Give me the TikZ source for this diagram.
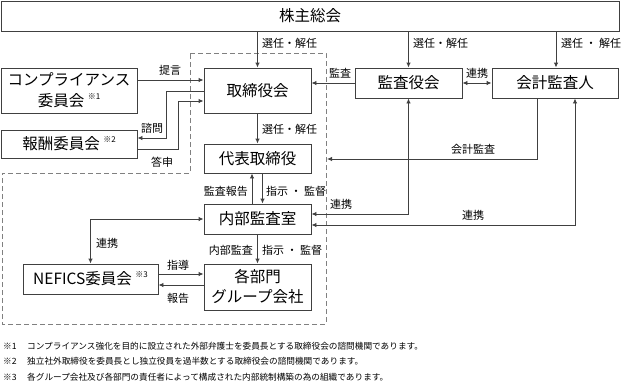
\documentclass[tikz,border=0pt]{standalone}
\usepackage{fontspec}
\setmainfont{Noto Sans CJK JP}
\usetikzlibrary{arrows.meta}
\definecolor{linec}{HTML}{404040}
\definecolor{zonec}{HTML}{808080}
\newcommand\bigfnt{\fontsize{15.5}{20}\selectfont}
\newcommand\labfnt{\fontsize{11}{13}\selectfont}
\newcommand\notefnt{\fontsize{8.65}{10}\selectfont}
\newcommand\supmark[1]{\raisebox{0.45em}{\fontsize{8}{8}\selectfont #1}}
\tikzset{
  box/.style={draw=linec, line width=0.9pt, inner sep=0pt, align=center, font=\bigfnt, text=black},
  lab/.style={inner sep=0pt, font=\labfnt, text=black},
  note/.style={inner sep=0pt, font=\notefnt, text=black, anchor=west},
  arr/.style={draw=linec, line width=0.9pt, -{Latex[length=5pt,width=4.5pt]}},
  arrs/.style={draw=linec, line width=0.9pt, {Latex[length=5pt,width=4.5pt]}-{Latex[length=5pt,width=4.5pt]}},
  zone/.style={draw=zonec, line width=0.8pt, dash pattern=on 5pt off 3pt},
}
\begin{document}
\begin{tikzpicture}[x=1pt,y=-1pt]
\useasboundingbox (0,0) rectangle (621,381);
% dashed zone
\draw[zone] (190,53) -- (326,53) -- (326,324) -- (2,324) -- (2,173) -- (190,173) -- cycle;

% boxes
\node[box, minimum width=618pt, minimum height=30pt] (sh) at (310,16) {株主総会};
\node[box, minimum width=136pt, minimum height=45pt, font=\fontsize{15.5}{21}\selectfont] (cc) at (69,90.5) {コンプライアンス\\委員会 \supmark{※1}};
\node[box, minimum width=136pt, minimum height=28pt] (rem) at (69,144) {報酬委員会 \supmark{※2}};
\node[box, minimum width=107pt, minimum height=45pt] (bod) at (257.5,90.5) {取締役会};
\node[box, minimum width=107pt, minimum height=29pt] (rep) at (257.5,158.5) {代表取締役};
\node[box, minimum width=107pt, minimum height=30pt] (kan) at (408.5,83) {監査役会};
\node[box, minimum width=126pt, minimum height=30pt] (acc) at (555,83) {会計監査人};
\node[box, minimum width=107pt, minimum height=30pt] (ia) at (257.5,219) {内部監査室};
\node[box, minimum width=107pt, minimum height=46pt] (dept) at (257.5,287) {各部門\\グループ会社};
\node[box, minimum width=135pt, minimum height=30pt] (nef) at (90.5,279) {NEFICS委員会 \supmark{※3}};

\coordinate (zoneR) at (327,159);

% connectors
\draw[arr] (bod.north |- sh.south) -- (bod.north);
\draw[arr] (kan.north |- sh.south) -- (kan.north);
\draw[arr] (556,31) coordinate (shacc) -- (shacc |- acc.north);
\draw[arr] (cc.east |- 0,80) -- (bod.west |- 0,80);
\draw[arr] (bod.west |- 0,91) -| (166,138) -- (rem.east |- 0,138);
\draw[arr] (rem.east |- 0,149) -| (178,101) -- (bod.west |- 0,101);
\draw[arr] (bod.south) -- (rep.north);
\draw[arr] (kan.west) -- (bod.east |- kan.west);
\draw[arrs] (kan.east) -- (acc.west);
\draw[arr] (acc.south -| 537,0) |- (zoneR);
\draw[arrs] (kan.south) |- (ia.east |- 0,214);
\draw[arrs] (acc.south -| 575,0) |- (ia.east |- 0,225);
\draw[arr] (ia.north -| 252,0) -- (rep.south -| 252,0);
\draw[arr] (rep.south -| 262.5,0) -- (ia.north -| 262.5,0);
\draw[arr] (ia.south) -- (dept.north);
\draw[arrs] (ia.west) -| (nef.north);
\draw[arr] (nef.east |- 0,274) -- (dept.west |- 0,274);
\draw[arr] (dept.west |- 0,285) -- (nef.east |- 0,285);

% labels
\node[lab, anchor=west] (l1) at (262,43) {選任・解任};
\node[lab, anchor=west] (l2) at (413,43) {選任・解任};
\node[lab, anchor=west] (l3) at (561,43) {選任 ・ 解任};
\node[lab, anchor=west] (l4) at (262,129) {選任・解任};
\node[lab] (l5) at (170,70) {提言};
\node[lab] (l6) at (152,128) {諮問};
\node[lab] (l7) at (162,162) {答申};
\node[lab] (l8) at (340,73) {監査};
\node[lab] (l9) at (477,73) {連携};
\node[lab] (l10) at (473,149) {会計監査};
\node[lab] (l11) at (341,204) {連携};
\node[lab] (l12) at (473,215) {連携};
\node[lab, anchor=east] (l13) at (248,191) {監査報告};
\node[lab, anchor=west] (l14) at (266,191) {指示 ・ 監督};
\node[lab, anchor=east] (l15) at (253,250) {内部監査};
\node[lab, anchor=west] (l16) at (262,250) {指示 ・ 監督};
\node[lab] (l17) at (107,243) {連携};
\node[lab] (l18) at (178,265) {指導};
\node[lab] (l19) at (178,298) {報告};

% footnotes
\node[note] (n1a) at (3,346) {※1};
\node[note] (n1b) at (27,346) {コンプライアンス強化を目的に設立された外部弁護士を委員長とする取締役会の諮問機関であります。};
\node[note] (n2a) at (3,361.5) {※2};
\node[note] (n2b) at (27,361.5) {独立社外取締役を委員長とし独立役員を過半数とする取締役会の諮問機関であります。};
\node[note] (n3a) at (3,377) {※3};
\node[note] (n3b) at (27,377) {各グループ会社及び各部門の責任者によって構成された内部統制構築の為の組織であります。};
\end{tikzpicture}
\end{document}
